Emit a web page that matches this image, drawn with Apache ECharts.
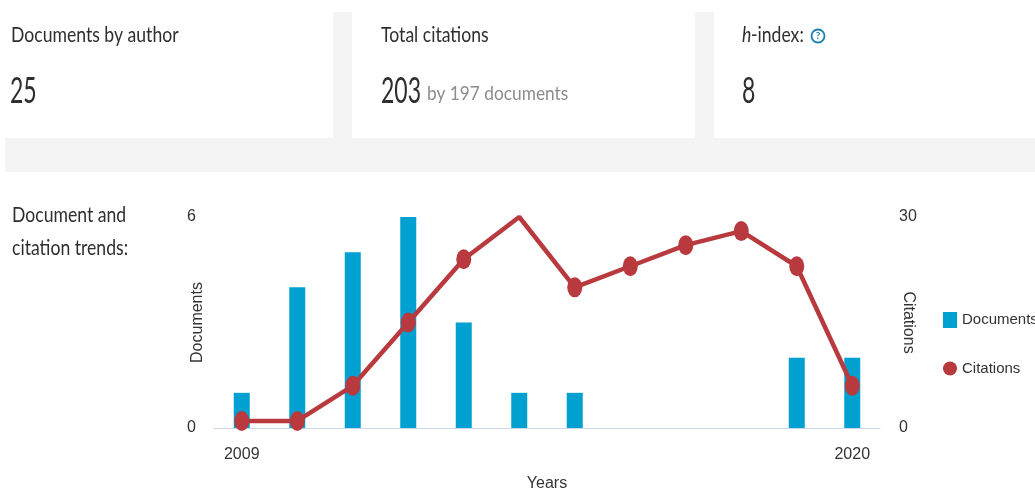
<!DOCTYPE html>
<html>
<head>
<meta charset="utf-8">
<script src="https://cdn.jsdelivr.net/npm/echarts@6/dist/echarts.min.js"></script>
<style>
  html, body { margin: 0; padding: 0; background: #fff; }
  #chart { width: 1035px; height: 493px; }
</style>
</head>
<body>
<div id="chart"></div>
<script>
// data
var years = ['2009', '2010', '2011', '2012', '2013', '2014', '2015', '2016', '2017', '2018', '2019', '2020'];
var documents = [1, 4, 5, 6, 3, 1, 1, 0, 0, 0, 2, 2];
var citations = [1, 1, 6, 15, 24, 30, 20, 23, 26, 28, 23, 6];
var docTicks = [0, 6];
var citeTicks = [0, 30];

// header numbers
var docCount = '25';
var citeCount = '203';
var citeByDocs = 'by 197 documents';
var hIndex = '8';

var chart = echarts.init(document.getElementById('chart'));

var narrow = "'Liberation Sans Narrow', 'Liberation Sans', Arial, sans-serif";
var head = "Lato, 'Open Sans', sans-serif";

// Highcharts hides the marker that sits on the top edge of the plot
var citeData = citations.map(function (v) {
    return v >= citeTicks[1] ? { value: v, symbol: 'none' } : v;
});

function txt(x, y, s, size, sx, color, extra) {
    var o = {
        type: 'text', x: x, y: y, scaleX: sx, z: 10,
        style: { text: s, font: size + 'px ' + head, fill: color || '#2e2e2e', verticalAlign: 'middle' }
    };
    if (extra) o.style.font = extra + ' ' + o.style.font;
    return o;
}

var option = {
    animation: false,
    backgroundColor: '#fff',
    textStyle: { fontFamily: narrow },
    grid: { left: 214, right: 155, top: 217, bottom: 65, outerBoundsMode: 'none', containLabel: false },
    legend: {
        orient: 'vertical',
        left: 938,
        top: 307,
        itemWidth: 14,
        itemHeight: 16,
        itemGap: 33,
        textStyle: { fontSize: 15, color: '#333', fontFamily: narrow },
        data: [
            { name: 'Documents', icon: 'rect' },
            { name: 'Citations', icon: 'circle' }
        ]
    },
    xAxis: {
        type: 'category',
        data: years,
        name: 'Years',
        nameLocation: 'middle',
        nameGap: 48,
        nameMoveOverlap: false,
        nameTextStyle: { fontSize: 16, color: '#333' },
        axisTick: { show: false },
        axisLine: { lineStyle: { color: '#ccd6eb', width: 1 } },
        axisLabel: {
            fontSize: 16, color: '#333', margin: 19,
            interval: function (i) { return i === 0 || i === years.length - 1; }
        }
    },
    yAxis: [
        {
            type: 'value',
            min: docTicks[0], max: docTicks[1], interval: docTicks[1] - docTicks[0],
            name: 'Documents',
            nameLocation: 'middle',
            nameGap: 8,
            nameRotate: 90,
            nameMoveOverlap: false,
            nameTextStyle: { fontSize: 16, color: '#333' },
            splitLine: { show: false },
            axisLine: { show: false },
            axisLabel: { fontSize: 16, color: '#333', margin: 18 }
        },
        {
            type: 'value',
            min: citeTicks[0], max: citeTicks[1], interval: citeTicks[1] - citeTicks[0],
            name: 'Citations',
            nameLocation: 'middle',
            nameGap: 20,
            nameRotate: -90,
            nameMoveOverlap: false,
            nameTextStyle: { fontSize: 16, color: '#333' },
            splitLine: { show: false },
            axisLine: { show: false },
            axisLabel: { fontSize: 16, color: '#333', margin: 19 }
        }
    ],
    series: [
        {
            name: 'Documents',
            type: 'bar',
            yAxisIndex: 0,
            barWidth: 16,
            itemStyle: { color: '#00a0d0' },
            data: documents
        },
        {
            name: 'Citations',
            type: 'line',
            yAxisIndex: 1,
            symbol: 'circle',
            symbolSize: [15, 20],
            lineStyle: { color: '#b8393e', width: 4.5 },
            itemStyle: { color: '#b8393e' },
            data: citeData
        }
    ],
    graphic: [
        // gray separators between the stat boxes
        { type: 'rect', shape: { x: 333, y: 12, width: 19, height: 126 }, style: { fill: '#f4f4f4' } },
        { type: 'rect', shape: { x: 695, y: 12, width: 19, height: 126 }, style: { fill: '#f4f4f4' } },
        { type: 'rect', shape: { x: 5, y: 138, width: 1030, height: 34 }, style: { fill: '#f4f4f4' } },

        txt(11, 35, 'Documents by author', 22, 0.8),
        txt(10, 91, docCount, 36, 0.64),
        txt(381, 35, 'Total citations', 22, 0.8),
        txt(381, 91, citeCount, 36, 0.64),
        txt(427, 94, citeByDocs, 19, 0.91, '#8c8c8c'),
        txt(742, 35, 'h', 22, 0.8, '#2e2e2e', 'italic'),
        txt(751, 35, '-index:', 22, 0.8),
        { type: 'circle', shape: { cx: 818, cy: 36, r: 6.5 }, style: { fill: 'none', stroke: '#1a7fae', lineWidth: 1.8 } },
        { type: 'text', x: 818, y: 36, style: { text: '?', font: 'bold 10px ' + head, fill: '#1a7fae', align: 'center', verticalAlign: 'middle' } },
        txt(742, 91, hIndex, 36, 0.64),

        txt(12, 215, 'Document and', 22, 0.8),
        txt(12, 248, 'citation trends:', 22, 0.8)
    ]
};
chart.setOption(option);
</script>
</body>
</html>
